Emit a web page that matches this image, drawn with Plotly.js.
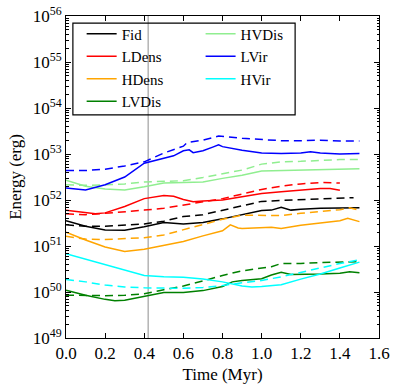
<!DOCTYPE html>
<html>
<head>
<meta charset="utf-8">
<script src="https://cdn.plot.ly/plotly-3.0.1.min.js"></script>
<style>
  html, body { margin: 0; padding: 0; background: #fff; }
  #chart { width: 399px; height: 391px; }
</style>
</head>
<body>
<div id="chart"></div>
<script>
// values, stored as log10(E / erg)
var fidT      = [0, 0.1, 0.2, 0.3, 0.4, 0.5, 0.6, 0.7, 0.8, 0.9, 1.0, 1.05, 1.1, 1.15, 1.2, 1.3, 1.4, 1.5];
var fidLog    = [51.55, 51.43, 51.35, 51.34, 51.42, 51.51, 51.48, 51.51, 51.59, 51.68, 51.77, 51.78, 51.84, 51.78, 51.80, 51.82, 51.83, 51.83];
var fidDT     = [0, 0.1, 0.2, 0.3, 0.4, 0.5, 0.6, 0.7, 0.8, 0.9, 1.0, 1.1, 1.2, 1.3, 1.4, 1.47];
var fidDLog   = [51.46, 51.43, 51.43, 51.45, 51.48, 51.54, 51.64, 51.68, 51.78, 51.87, 51.97, 51.99, 52.01, 52.03, 52.05, 52.05];

var ldensT    = [0, 0.1, 0.15, 0.2, 0.3, 0.4, 0.5, 0.55, 0.6, 0.65, 0.7, 0.8, 0.9, 1.0, 1.1, 1.2, 1.3, 1.35, 1.4];
var ldensLog  = [51.78, 51.72, 51.70, 51.72, 51.86, 52.03, 52.10, 52.08, 52.01, 51.96, 51.98, 52.00, 52.07, 52.14, 52.18, 52.22, 52.25, 52.25, 52.21];
var ldensDT   = [0, 0.1, 0.2, 0.3, 0.4, 0.5, 0.6, 0.7, 0.8, 0.9, 1.0, 1.1, 1.2, 1.3, 1.4];
var ldensDLog = [51.70, 51.68, 51.71, 51.74, 51.78, 51.82, 51.89, 51.96, 52.03, 52.13, 52.23, 52.30, 52.35, 52.38, 52.37];

var hdensT    = [0, 0.1, 0.2, 0.3, 0.4, 0.5, 0.6, 0.7, 0.8, 0.84, 0.88, 0.9, 1.0, 1.05, 1.1, 1.2, 1.3, 1.4, 1.44, 1.5];
var hdensLog  = [51.30, 51.13, 50.98, 50.88, 50.93, 51.02, 51.10, 51.22, 51.33, 51.46, 51.39, 51.38, 51.41, 51.41, 51.38, 51.45, 51.50, 51.55, 51.60, 51.53];
var hdensDT   = [0, 0.1, 0.2, 0.3, 0.4, 0.5, 0.6, 0.7, 0.8, 0.9, 1.0, 1.1, 1.2, 1.3, 1.4, 1.45, 1.5];
var hdensDLog = [51.21, 51.15, 51.14, 51.16, 51.18, 51.24, 51.35, 51.47, 51.58, 51.67, 51.66, 51.66, 51.71, 51.75, 51.79, 51.83, 51.78];

var lvdisT    = [0, 0.1, 0.2, 0.25, 0.3, 0.4, 0.5, 0.6, 0.7, 0.8, 0.85, 0.9, 1.0, 1.05, 1.1, 1.15, 1.2, 1.3, 1.4, 1.45, 1.5];
var lvdisLog  = [50.04, 49.93, 49.84, 49.81, 49.82, 49.90, 49.99, 49.99, 50.03, 50.12, 50.22, 50.25, 50.29, 50.37, 50.43, 50.38, 50.38, 50.39, 50.41, 50.44, 50.42];
var lvdisDT   = [0, 0.1, 0.2, 0.3, 0.4, 0.5, 0.6, 0.7, 0.8, 0.9, 1.0, 1.05, 1.1, 1.2, 1.3, 1.4, 1.5];
var lvdisDLog = [49.93, 49.92, 49.92, 49.93, 49.96, 50.05, 50.13, 50.24, 50.36, 50.46, 50.52, 50.55, 50.62, 50.62, 50.64, 50.65, 50.66];

var hvdisT    = [0, 0.1, 0.2, 0.3, 0.4, 0.5, 0.6, 0.7, 0.8, 0.9, 1.0, 1.1, 1.2, 1.3, 1.4, 1.5];
var hvdisLog  = [52.43, 52.30, 52.24, 52.22, 52.29, 52.37, 52.38, 52.39, 52.47, 52.54, 52.63, 52.64, 52.65, 52.67, 52.68, 52.68];
var hvdisDLog = [52.33, 52.32, 52.33, 52.35, 52.39, 52.41, 52.42, 52.49, 52.57, 52.65, 52.78, 52.83, 52.84, 52.86, 52.88, 52.88];

var lvirT     = [0, 0.1, 0.2, 0.3, 0.4, 0.5, 0.55, 0.6, 0.63, 0.65, 0.7, 0.75, 0.78, 0.8, 0.9, 1.0, 1.1, 1.2, 1.25, 1.3, 1.4, 1.5];
var lvirLog   = [52.26, 52.22, 52.33, 52.50, 52.80, 52.90, 52.96, 53.07, 53.09, 53.03, 53.07, 53.15, 53.20, 53.16, 53.08, 53.02, 53.01, 53.02, 53.05, 53.02, 53.00, 53.01];
var lvirDT    = [0, 0.1, 0.2, 0.3, 0.4, 0.5, 0.6, 0.62, 0.7, 0.78, 0.9, 1.0, 1.1, 1.2, 1.3, 1.4, 1.5];
var lvirDLog  = [52.64, 52.64, 52.67, 52.74, 52.83, 53.02, 53.17, 53.25, 53.30, 53.39, 53.34, 53.32, 53.29, 53.29, 53.30, 53.28, 53.28];

var hvirT     = [0, 0.1, 0.2, 0.3, 0.4, 0.5, 0.6, 0.7, 0.8, 0.9, 0.95, 1.0, 1.1, 1.2, 1.3, 1.4, 1.5];
var hvirLog   = [50.83, 50.71, 50.60, 50.48, 50.36, 50.33, 50.32, 50.28, 50.22, 50.13, 50.11, 50.12, 50.16, 50.28, 50.39, 50.52, 50.65];
var hvirDT    = [0, 0.1, 0.2, 0.3, 0.4, 0.5, 0.6, 0.7, 0.8, 0.9, 1.0, 1.1, 1.2, 1.3, 1.4, 1.5];
var hvirDLog  = [50.27, 50.22, 50.15, 50.11, 50.09, 50.08, 50.08, 50.10, 50.14, 50.20, 50.25, 50.33, 50.43, 50.53, 50.62, 50.70];

var decades = [49, 50, 51, 52, 53, 54, 55, 56];
var eventTime = 0.42;

var font = 'Liberation Serif, DejaVu Serif, serif';
var dashPattern = '8px,5px';

function toErg(arr) {
    return arr.map(function (v) { return Math.pow(10, v); });
}

function pair(name, color, t, y, tD, yD, legendId) {
    return [{
        x: t, y: toErg(y), mode: 'lines', name: name,
        line: {color: color, width: 1.5},
        legend: legendId
    }, {
        x: tD, y: toErg(yD), mode: 'lines', name: name + ' (dashed)',
        line: {color: color, width: 1.5, dash: dashPattern},
        showlegend: false
    }];
}

var data = [].concat(
    pair('Fid', 'black', fidT, fidLog, fidDT, fidDLog, 'legend'),
    pair('LDens', '#ff0000', ldensT, ldensLog, ldensDT, ldensDLog, 'legend'),
    pair('HDens', '#ffa500', hdensT, hdensLog, hdensDT, hdensDLog, 'legend'),
    pair('LVDis', '#008000', lvdisT, lvdisLog, lvdisDT, lvdisDLog, 'legend'),
    pair('HVDis', '#90ee90', hvdisT, hvdisLog, hvdisT, hvdisDLog, 'legend2'),
    pair('LVir', '#0000ff', lvirT, lvirLog, lvirDT, lvirDLog, 'legend2'),
    pair('HVir', '#00ffff', hvirT, hvirLog, hvirDT, hvirDLog, 'legend2')
);

var tickVals = decades.map(function (d) { return Math.pow(10, d); });
var tickText = decades.map(function (d) { return '10<sup>' + d + '</sup>'; });
var minorVals = [];
for (var i = 0; i < decades.length - 1; i++) {
    for (var m = 2; m <= 9; m++) {
        minorVals.push(m * Math.pow(10, decades[i]));
    }
}

var legendCommon = {
    bgcolor: 'rgba(0,0,0,0)',
    borderwidth: 0,
    font: {family: font, size: 15, color: 'black'},
    xanchor: 'left',
    yanchor: 'top',
    tracegroupgap: 0
};

var layout = {
    width: 399,
    height: 391,
    margin: {l: 66, r: 20, t: 16, b: 53},
    paper_bgcolor: 'white',
    plot_bgcolor: 'white',
    font: {family: font, size: 17, color: 'black'},
    showlegend: true,
    legend: Object.assign({x: 0.05, y: 0.995}, legendCommon),
    legend2: Object.assign({x: 0.43, y: 0.995}, legendCommon),
    xaxis: {
        range: [0, 1.6],
        dtick: 0.2,
        tick0: 0,
        tickformat: '.1f',
        ticks: 'inside',
        ticklen: 5,
        tickcolor: 'black',
        showline: true,
        linecolor: 'black',
        linewidth: 1,
        mirror: 'allticks',
        showgrid: false,
        zeroline: false,
        title: {text: 'Time (Myr)', font: {family: font, size: 17}, standoff: 5}
    },
    yaxis: {
        type: 'log',
        range: [49, 56],
        tickmode: 'array',
        tickvals: tickVals,
        ticktext: tickText,
        ticks: 'inside',
        ticklen: 5,
        tickcolor: 'black',
        minor: {tickmode: 'array', tickvals: minorVals, ticks: 'inside', ticklen: 2.5, tickcolor: 'black'},
        showline: true,
        linecolor: 'black',
        linewidth: 1,
        mirror: 'allticks',
        showgrid: false,
        zeroline: false,
        title: {text: 'Energy (erg)', font: {family: font, size: 17}, standoff: 6}
    },
    shapes: [{
        type: 'line', xref: 'x', yref: 'paper',
        x0: eventTime, x1: eventTime, y0: 0, y1: 1,
        line: {color: '#a0a0a0', width: 1.2}, layer: 'below'
    }, {
        type: 'rect', xref: 'paper', yref: 'paper',
        x0: 0.022, x1: 0.732, y0: 0.693, y1: 0.978,
        line: {color: 'black', width: 1.2}, fillcolor: 'rgba(0,0,0,0)', layer: 'above'
    }]
};

Plotly.newPlot('chart', data, layout, {displayModeBar: false, staticPlot: true});
</script>
</body>
</html>
